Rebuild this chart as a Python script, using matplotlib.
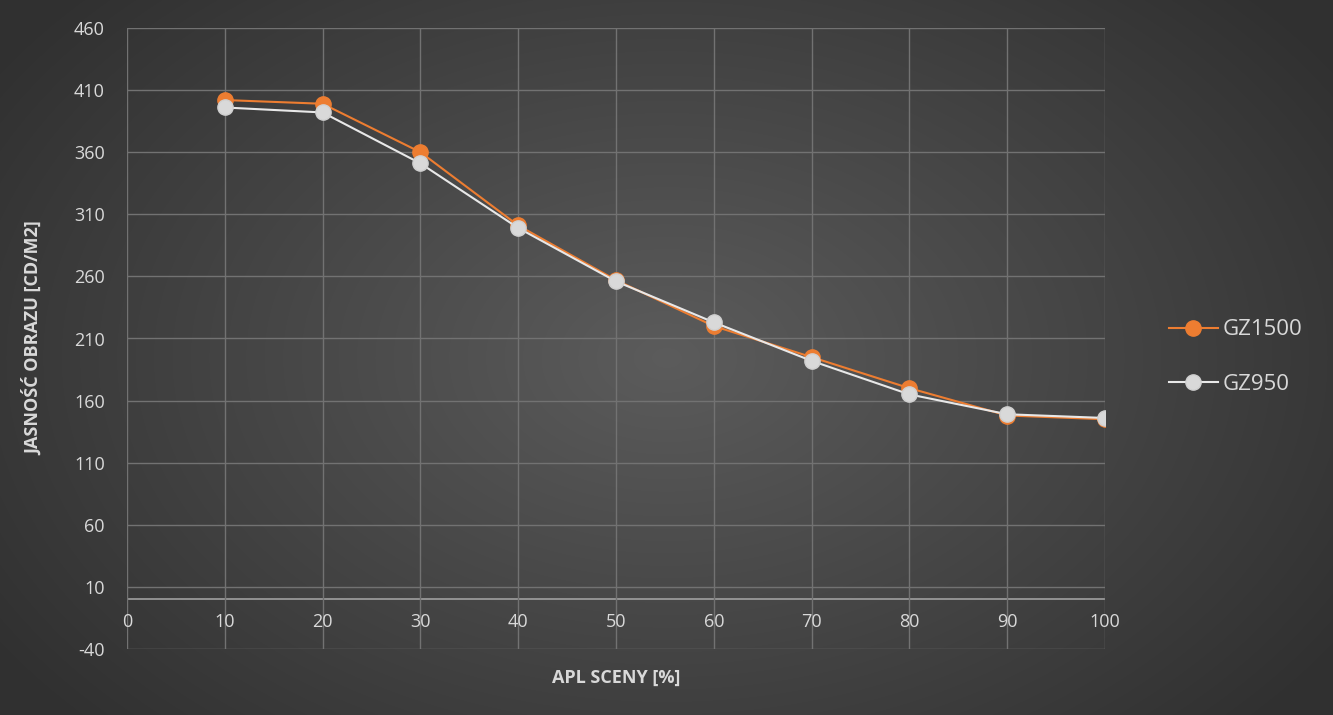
import numpy as np
import matplotlib
matplotlib.use("Agg")
import matplotlib.pyplot as plt
plt.rcParams['axes.unicode_minus'] = False
plt.rcParams['font.family'] = 'Open Sans'

apl = [10, 20, 30, 40, 50, 60, 70, 80, 90, 100]
gz1500 = [402, 399, 360, 301, 257, 220, 195, 170, 148, 145]
gz950 = [396, 392, 351, 299, 256, 223, 192, 165, 149, 146]
yticks = list(range(-40, 461, 50))
xticks = list(range(0, 101, 10))

W, H = 1333, 715
fig = plt.figure(figsize=(W/100, H/100), dpi=100)
bg = fig.add_axes([0, 0, 1, 1])
yy, xx = np.mgrid[0:H, 0:W]
r = np.sqrt(((xx - W/2)/(W*0.6))**2 + ((yy - H/2)/(H*0.75))**2)
r = np.clip(r, 0, 1)
c = 0.36 - 0.17*r
bg.imshow(np.dstack([c, c, c]), aspect='auto', extent=[0, 1, 0, 1])
bg.axis('off')

ax = fig.add_axes([127/W, 1-649/H, (1105-127)/W, (649-28)/H])
ax.patch.set_alpha(0)
ax.set_xlim(0, 100)
ax.set_ylim(-40, 460)
ax.set_yticks(yticks)
ax.set_xticks(xticks)
ax.grid(True, color='#727272', lw=1)
for s in ax.spines.values():
    s.set_visible(False)
ax.axhline(0, color='#a0a0a0', lw=1.2, zorder=1)
ax.tick_params(length=0, colors='#d9d9d9', labelsize=13)
ax.tick_params(axis='x', pad=-26)
ax.tick_params(axis='y', pad=16)
ax.plot(apl, gz1500, color='#ed7d31', marker='o', ms=11, lw=1.5, label='GZ1500', zorder=3)
ax.plot(apl, gz950, color='#e8e8e8', marker='o', ms=11, lw=1.5, label='GZ950', zorder=4,
        markeredgecolor='#d0d0d0', markerfacecolor='#d9d9d9')
ax.set_xlabel('APL SCENY [%]', color='#d9d9d9', fontsize=13, fontweight='bold', labelpad=14)
ax.set_ylabel('JASNOŚĆ OBRAZU [CD/M2]', color='#d9d9d9', fontsize=13, fontweight='bold', labelpad=22)
leg = ax.legend(loc='center left', bbox_to_anchor=(1.045, 0.47), frameon=False,
                fontsize=16, labelcolor='#d9d9d9', handlelength=2.2, labelspacing=1.5,
                handletextpad=0.2)
fig.savefig('out.png', dpi=100)
